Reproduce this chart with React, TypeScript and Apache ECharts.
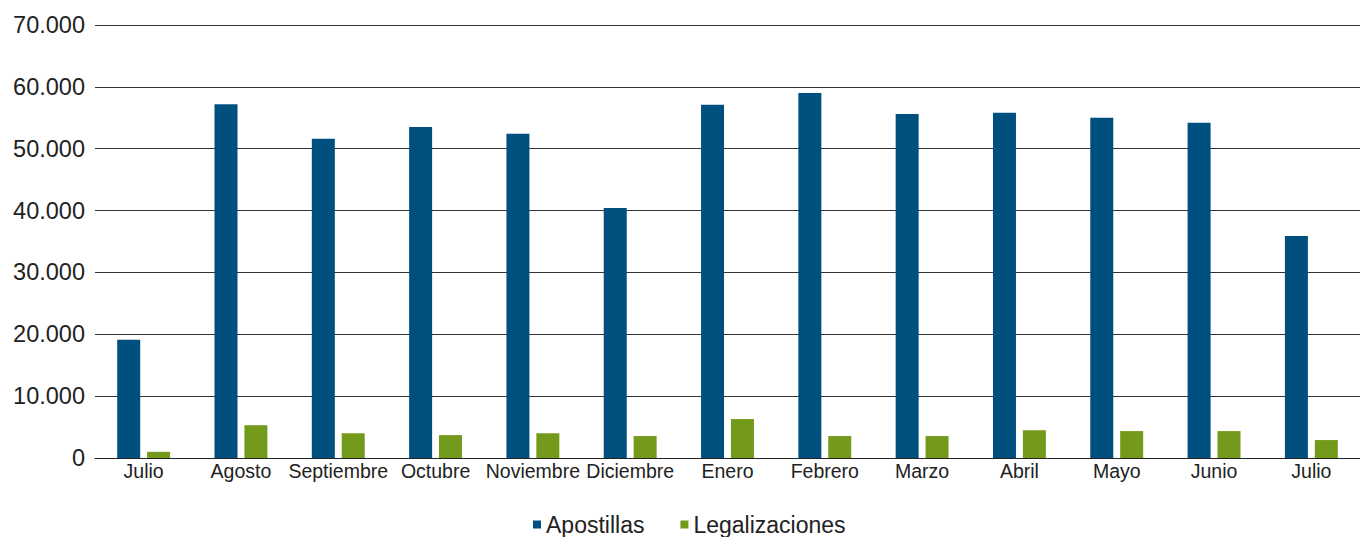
import React, { useEffect, useRef } from "react";
import * as echarts from "echarts";

const categories = ["Julio", "Agosto", "Septiembre", "Octubre", "Noviembre", "Diciembre", "Enero", "Febrero", "Marzo", "Abril", "Mayo", "Junio", "Julio"];
const apostillas = [19100, 57200, 51600, 53500, 52400, 40400, 57100, 59000, 55600, 55800, 55000, 54200, 35900];
const legalizaciones = [1000, 5300, 4000, 3700, 4000, 3550, 6300, 3550, 3550, 4500, 4350, 4350, 2900];

const fmt = (v: number) => String(v).replace(/\B(?=(\d{3})+(?!\d))/g, ".");

export default function App() {
  const ref = useRef<HTMLDivElement>(null);
  useEffect(() => {
    const chart = echarts.init(ref.current!, null, { renderer: "svg" });
    const font = "'Liberation Sans', Arial, Helvetica, sans-serif";
    chart.setOption({
      animation: false,
      textStyle: { fontFamily: font },
      grid: { left: 95, right: 0, top: 25, bottom: 79, containLabel: false },
      legend: {
        top: 513,
        left: 533,
        padding: 0,
        itemWidth: 8,
        itemHeight: 8,
        itemGap: 36,
        icon: "rect",
        textStyle: { fontSize: 23, color: "#222", fontFamily: font },
        data: ["Apostillas", "Legalizaciones"],
      },
      xAxis: {
        type: "category",
        data: categories,
        axisLine: { lineStyle: { color: "#222", width: 1 } },
        axisTick: { show: false },
        axisLabel: { color: "#222", fontSize: 19.5, margin: 3, interval: 0, fontFamily: font },
      },
      yAxis: {
        type: "value",
        min: 0,
        max: 70000,
        interval: 10000,
        axisLine: { show: false },
        axisTick: { show: false },
        splitLine: { lineStyle: { color: "#333", width: 1 } },
        axisLabel: { color: "#222", fontSize: 23.5, margin: 10, formatter: (v: number) => fmt(v), fontFamily: font },
      },
      series: [
        {
          name: "Apostillas",
          type: "bar",
          data: apostillas,
          barWidth: 23,
          barGap: "30%",
          itemStyle: { color: "#00507f" },
        },
        {
          name: "Legalizaciones",
          type: "bar",
          data: legalizaciones,
          barWidth: 23,
          itemStyle: { color: "#739a1a" },
        },
      ],
    });
    return () => chart.dispose();
  }, []);
  return <div ref={ref} style={{ width: 1360, height: 537, position: "absolute", left: 0, top: 0 }} />;
}
